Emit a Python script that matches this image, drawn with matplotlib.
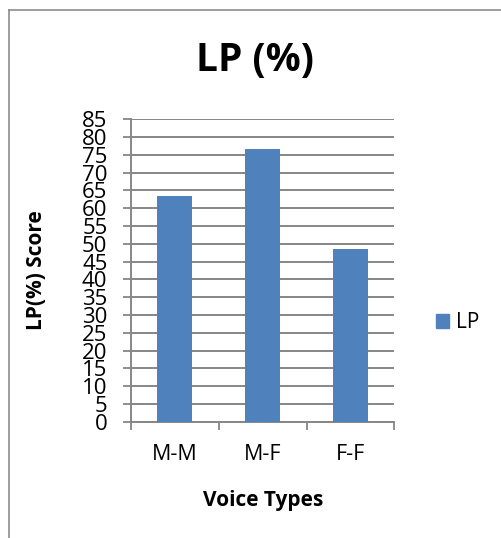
import matplotlib

matplotlib.use("Agg")
import matplotlib.pyplot as plt  # noqa: E402
from matplotlib.lines import Line2D  # noqa: E402
from matplotlib.patches import Patch  # noqa: E402

categories = ["M-M", "M-F", "F-F"]
lp_values = [63.4, 76.6, 48.6]
y_ticks = list(range(0, 90, 5))

BAR = "#4F81BD"
GRID = "#868686"

plt.rcParams["font.family"] = ["Open Sans", "DejaVu Sans"]

fig = plt.figure(figsize=(5.02, 5.38), dpi=100)
ax = fig.add_axes([0.261, 0.2162, 0.5245, 0.5621])

x = list(range(len(categories)))
ax.bar(x, lp_values, width=0.4, color=BAR, zorder=3)

ax.set_xlim(-0.5, 2.5)
ax.set_ylim(0, 85)
ax.set_yticks(y_ticks)
# the reference squeezes its tick labels so they touch; keep that look
ax.set_yticklabels([str(v) for v in y_ticks], fontsize=16)
ax.tick_params(axis="y", length=6, width=1.3, color=GRID, pad=11)
ax.set_xticks(x)
ax.set_xticklabels(categories, fontsize=15.5)
ax.tick_params(axis="x", which="major", length=0, pad=16)
ax.set_xticks([-0.5, 0.5, 1.5, 2.5], minor=True)
ax.tick_params(axis="x", which="minor", length=6, width=1.3, color=GRID)

ax.grid(axis="y", color=GRID, linewidth=1.4, zorder=0)
for side in ("top", "right"):
    ax.spines[side].set_visible(False)
for side in ("left", "bottom"):
    ax.spines[side].set_color(GRID)
    ax.spines[side].set_linewidth(1.4)

ax.set_ylabel("LP(%) Score", fontsize=15, fontweight="bold")
ax.yaxis.set_label_coords(-0.32, 0.5)
ax.set_xlabel("Voice Types", fontsize=15, fontweight="bold")
ax.xaxis.set_label_coords(0.5, -0.225)

fig.text(0.507, 0.888, "LP (%)", ha="center", va="center",
         fontsize=28, fontweight="bold")

fig.legend(handles=[Patch(color=BAR, label="LP")], loc="center left",
           bbox_to_anchor=(0.868, 0.4), frameon=False, fontsize=15,
           handlelength=0.65, handleheight=0.65, handletextpad=0.3,
           borderaxespad=0, borderpad=0)

# chart area border (left and top visible in the reference)
fig.add_artist(Line2D([0.017, 0.017], [0.0, 0.981], transform=fig.transFigure,
                      color="#8C8C8C", linewidth=1.2))
fig.add_artist(Line2D([0.017, 1.0], [0.981, 0.981], transform=fig.transFigure,
                      color="#8C8C8C", linewidth=1.2))

fig.savefig("out.png", dpi=100)
plt.close(fig)
